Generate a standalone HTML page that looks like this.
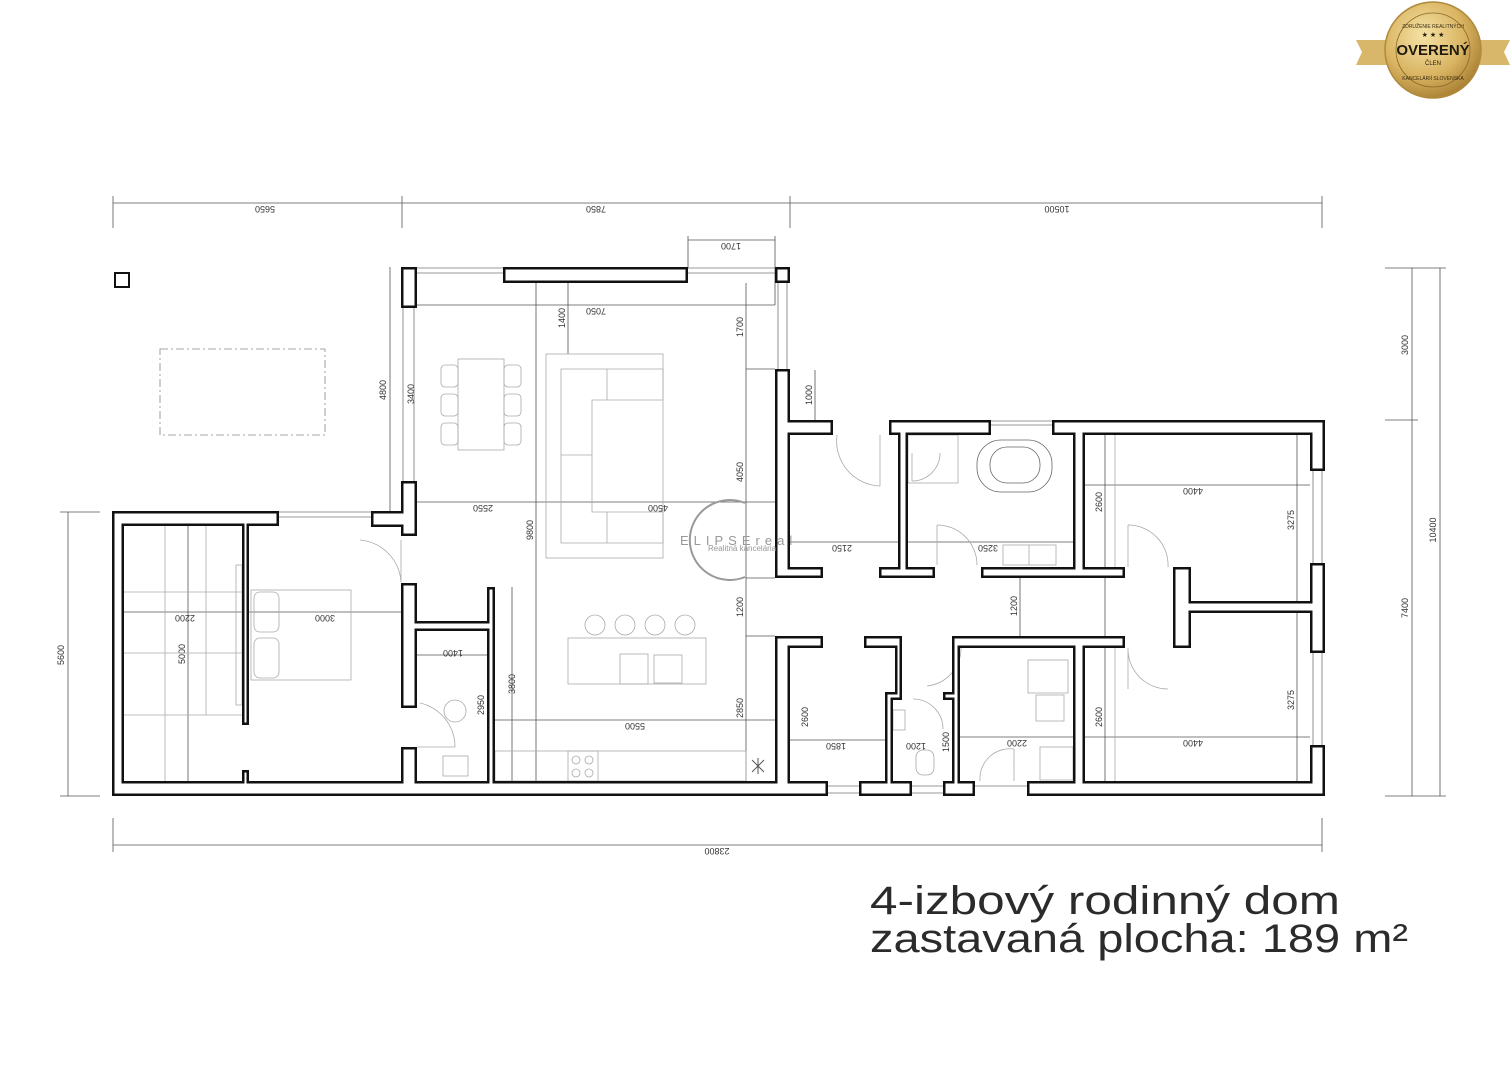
<!DOCTYPE html>
<html><head><meta charset="utf-8"><style>
html,body{margin:0;padding:0;background:#fff;}
svg{display:block}
.d{font-family:"Liberation Sans",sans-serif;font-size:9px;fill:#333}
</style></head><body>
<svg width="1512" height="1080" viewBox="0 0 1512 1080" xmlns="http://www.w3.org/2000/svg">
<rect width="1512" height="1080" fill="#fff"/>

<!-- dimension lines -->
<g stroke="#555" stroke-width="0.8" fill="none">
<line x1="113" y1="203" x2="1322" y2="203"/>
<line x1="113" y1="196" x2="113" y2="228"/><line x1="402" y1="196" x2="402" y2="228"/><line x1="790" y1="196" x2="790" y2="228"/><line x1="1322" y1="196" x2="1322" y2="228"/>
<line x1="113" y1="845" x2="1322" y2="845"/>
<line x1="113" y1="818" x2="113" y2="852"/><line x1="1322" y1="818" x2="1322" y2="852"/>
<line x1="1412" y1="268" x2="1412" y2="796"/><line x1="1440" y1="268" x2="1440" y2="796"/>
<line x1="1385" y1="268" x2="1446" y2="268"/><line x1="1385" y1="420" x2="1418" y2="420"/><line x1="1385" y1="796" x2="1446" y2="796"/>
<line x1="68" y1="512" x2="68" y2="796"/>
<line x1="60" y1="512" x2="100" y2="512"/><line x1="60" y1="796" x2="100" y2="796"/>
<line x1="688" y1="240" x2="775" y2="240"/><line x1="688" y1="236" x2="688" y2="268"/><line x1="775" y1="236" x2="775" y2="305"/>
<line x1="417" y1="305" x2="775" y2="305"/>
<line x1="417" y1="502" x2="775" y2="502"/>
<line x1="536" y1="283" x2="536" y2="781"/>
<line x1="568" y1="283" x2="568" y2="354"/>
<line x1="746" y1="283" x2="746" y2="781"/>
<line x1="746" y1="369" x2="775" y2="369"/><line x1="746" y1="578" x2="775" y2="578"/><line x1="746" y1="636" x2="775" y2="636"/>
<line x1="390" y1="267" x2="390" y2="511"/>
<line x1="124" y1="612" x2="401" y2="612"/>
<line x1="188" y1="526" x2="188" y2="781"/>
<line x1="417" y1="655" x2="487" y2="655"/>
<line x1="512" y1="587" x2="512" y2="781"/>
<line x1="495" y1="720" x2="775" y2="720"/>
<line x1="790" y1="740" x2="885" y2="740"/>
<line x1="908" y1="542" x2="1073" y2="542"/>
<line x1="790" y1="542" x2="898" y2="542"/>
<line x1="1020" y1="575" x2="1020" y2="636"/>
<line x1="1085" y1="485" x2="1310" y2="485"/>
<line x1="1085" y1="737" x2="1310" y2="737"/>
<line x1="1105" y1="435" x2="1105" y2="781"/>
<line x1="1297" y1="435" x2="1297" y2="781"/>
<line x1="960" y1="737" x2="1073" y2="737"/>
<line x1="815" y1="370" x2="815" y2="420"/>
</g>
<g class="d">
<text transform="translate(265,206) rotate(180)" text-anchor="middle">5650</text>
<text transform="translate(596,206) rotate(180)" text-anchor="middle">7850</text>
<text transform="translate(1057,206) rotate(180)" text-anchor="middle">10500</text>
<text transform="translate(717,848) rotate(180)" text-anchor="middle">23800</text>
<text transform="translate(1408,345) rotate(-90)" text-anchor="middle">3000</text>
<text transform="translate(1408,608) rotate(-90)" text-anchor="middle">7400</text>
<text transform="translate(1436,530) rotate(-90)" text-anchor="middle">10400</text>
<text transform="translate(64,655) rotate(-90)" text-anchor="middle">5600</text>
<text transform="translate(731,243) rotate(180)" text-anchor="middle">1700</text>
<text transform="translate(596,308) rotate(180)" text-anchor="middle">7050</text>
<text transform="translate(565,318) rotate(-90)" text-anchor="middle">1400</text>
<text transform="translate(743,327) rotate(-90)" text-anchor="middle">1700</text>
<text transform="translate(386,390) rotate(-90)" text-anchor="middle">4800</text>
<text transform="translate(414,394) rotate(-90)" text-anchor="middle">3400</text>
<text transform="translate(483,505) rotate(180)" text-anchor="middle">2550</text>
<text transform="translate(658,505) rotate(180)" text-anchor="middle">4500</text>
<text transform="translate(743,472) rotate(-90)" text-anchor="middle">4050</text>
<text transform="translate(533,530) rotate(-90)" text-anchor="middle">9800</text>
<text transform="translate(743,607) rotate(-90)" text-anchor="middle">1200</text>
<text transform="translate(743,708) rotate(-90)" text-anchor="middle">2850</text>
<text transform="translate(635,723) rotate(180)" text-anchor="middle">5500</text>
<text transform="translate(515,684) rotate(-90)" text-anchor="middle">3800</text>
<text transform="translate(185,615) rotate(180)" text-anchor="middle">2200</text>
<text transform="translate(325,615) rotate(180)" text-anchor="middle">3000</text>
<text transform="translate(185,654) rotate(-90)" text-anchor="middle">5000</text>
<text transform="translate(453,650) rotate(180)" text-anchor="middle">1400</text>
<text transform="translate(484,705) rotate(-90)" text-anchor="middle">2950</text>
<text transform="translate(842,545) rotate(180)" text-anchor="middle">2150</text>
<text transform="translate(988,545) rotate(180)" text-anchor="middle">3250</text>
<text transform="translate(1017,606) rotate(-90)" text-anchor="middle">1200</text>
<text transform="translate(1193,488) rotate(180)" text-anchor="middle">4400</text>
<text transform="translate(1193,740) rotate(180)" text-anchor="middle">4400</text>
<text transform="translate(1102,502) rotate(-90)" text-anchor="middle">2600</text>
<text transform="translate(1102,717) rotate(-90)" text-anchor="middle">2600</text>
<text transform="translate(1294,520) rotate(-90)" text-anchor="middle">3275</text>
<text transform="translate(1294,700) rotate(-90)" text-anchor="middle">3275</text>
<text transform="translate(812,395) rotate(-90)" text-anchor="middle">1000</text>
<text transform="translate(808,717) rotate(-90)" text-anchor="middle">2600</text>
<text transform="translate(836,743) rotate(180)" text-anchor="middle">1850</text>
<text transform="translate(916,743) rotate(180)" text-anchor="middle">1200</text>
<text transform="translate(1017,740) rotate(180)" text-anchor="middle">2200</text>
<text transform="translate(949,742) rotate(-90)" text-anchor="middle">1500</text>
</g>

<!-- furniture (light) -->
<g stroke="#aaa" stroke-width="0.8" fill="none">
<rect x="160" y="349" width="165" height="86" stroke="#888" stroke-dasharray="8,3,2,3"/>
<rect x="458" y="359" width="46" height="91"/>
<rect x="441" y="365" width="17" height="22" rx="4"/><rect x="441" y="394" width="17" height="22" rx="4"/><rect x="441" y="423" width="17" height="22" rx="4"/>
<rect x="504" y="365" width="17" height="22" rx="4"/><rect x="504" y="394" width="17" height="22" rx="4"/><rect x="504" y="423" width="17" height="22" rx="4"/>
<rect x="546" y="354" width="117" height="204"/>
<path d="M561 369H663V400H592V512H663V543H561Z"/>
<line x1="607" y1="369" x2="607" y2="400"/><line x1="561" y1="455" x2="592" y2="455"/><line x1="607" y1="512" x2="607" y2="543"/>
<circle cx="595" cy="625" r="10"/><circle cx="625" cy="625" r="10"/><circle cx="655" cy="625" r="10"/><circle cx="685" cy="625" r="10"/>
<rect x="568" y="638" width="138" height="46"/><rect x="620" y="654" width="28" height="30"/><rect x="654" y="655" width="28" height="28"/>
<rect x="495" y="751" width="251" height="30"/><rect x="568" y="751" width="30" height="30"/>
<circle cx="576" cy="760" r="4"/><circle cx="589" cy="760" r="4"/><circle cx="576" cy="773" r="4"/><circle cx="589" cy="773" r="4"/>
<rect x="251" y="590" width="100" height="90"/><rect x="254" y="592" width="25" height="40" rx="6"/><rect x="254" y="638" width="25" height="40" rx="6"/>
<rect x="236" y="565" width="6" height="140"/>
<line x1="124" y1="592" x2="242" y2="592"/><line x1="124" y1="653" x2="242" y2="653"/><line x1="124" y1="715" x2="242" y2="715"/>
<line x1="165" y1="526" x2="165" y2="781"/><line x1="206" y1="526" x2="206" y2="715"/>
<rect x="443" y="756" width="25" height="20"/>
<path d="M455 700a8 8 0 1 1 0 22a8 8 0 1 1 0-22"/>
<path d="M360 540a45 45 0 0 1 41 42M401 582V540"/>
<path d="M420 703a45 45 0 0 1 35 44M417 747H455"/>
<rect x="977" y="440" width="75" height="52" rx="24" stroke="#666"/>
<rect x="990" y="447" width="50" height="36" rx="17" stroke="#666"/>
<rect x="1003" y="545" width="53" height="20"/><line x1="1029" y1="545" x2="1029" y2="565"/>
<rect x="908" y="435" width="50" height="48"/>
<path d="M912 481a28 28 0 0 0 28-28M912 453V481"/>
<path d="M937 525a40 40 0 0 1 40 40M937 525V565"/>
<path d="M837 435a45 45 0 0 0 43 51M880 435V486"/>
<path d="M1128 525a40 40 0 0 1 40 42M1128 525V567"/>
<path d="M1128 648a40 40 0 0 0 40 41M1128 648V689"/>
<path d="M961 648a38 38 0 0 1-34 38"/>
<path d="M913 699a30 30 0 0 1 30 30"/>
<path d="M980 781a30 30 0 0 1 34-32M1014 749V781"/>
<rect x="1028" y="660" width="40" height="33"/><rect x="1036" y="695" width="28" height="26"/>
<rect x="1040" y="747" width="33" height="33"/>
<rect x="916" y="750" width="18" height="25" rx="7"/><rect x="893" y="710" width="12" height="20"/>
<line x1="1115" y1="435" x2="1115" y2="567"/><line x1="1115" y1="648" x2="1115" y2="781"/>
</g>
<g stroke="#555" stroke-width="1" fill="none">
<line x1="752" y1="760" x2="764" y2="772"/><line x1="764" y1="760" x2="752" y2="772"/><line x1="758" y1="758" x2="758" y2="774"/>
</g>
<rect x="115" y="273" width="14" height="14" fill="none" stroke="#111" stroke-width="2"/>

<!-- windows thin lines -->
<g stroke="#777" stroke-width="0.8">
<line x1="417" y1="268" x2="503" y2="268"/><line x1="417" y1="273" x2="503" y2="273"/>
<line x1="688" y1="268" x2="775" y2="268"/><line x1="688" y1="273" x2="775" y2="273"/>
<line x1="403" y1="308" x2="403" y2="481"/><line x1="414" y1="308" x2="414" y2="481"/>
<line x1="778" y1="283" x2="778" y2="369"/><line x1="787" y1="283" x2="787" y2="369"/>
<line x1="279" y1="512" x2="371" y2="512"/><line x1="279" y1="517" x2="371" y2="517"/>
<line x1="991" y1="421" x2="1052" y2="421"/><line x1="991" y1="425" x2="1052" y2="425"/>
<line x1="1313" y1="471" x2="1313" y2="563"/><line x1="1322" y1="471" x2="1322" y2="563"/>
<line x1="1313" y1="653" x2="1313" y2="745"/><line x1="1322" y1="653" x2="1322" y2="745"/>
<line x1="828" y1="786" x2="859" y2="786"/><line x1="828" y1="793" x2="859" y2="793"/>
<line x1="912" y1="786" x2="943" y2="786"/><line x1="912" y1="793" x2="943" y2="793"/>
<line x1="975" y1="786" x2="1027" y2="786"/>
</g>

<!-- walls: black then white inset -->
<g fill="#111">
<rect x="112" y="781" width="716" height="15"/><rect x="859" y="781" width="53" height="15"/><rect x="943" y="781" width="32" height="15"/><rect x="1027" y="781" width="298" height="15"/>
<rect x="112" y="511" width="12" height="285"/>
<rect x="112" y="511" width="167" height="15"/>
<rect x="371" y="511" width="46" height="16"/>
<rect x="242" y="526" width="7" height="199"/><rect x="242" y="770" width="7" height="12"/>
<rect x="401" y="267" width="16" height="41"/>
<rect x="401" y="481" width="16" height="55"/>
<rect x="401" y="583" width="16" height="125"/>
<rect x="401" y="747" width="16" height="35"/>
<rect x="417" y="621" width="78" height="10"/>
<rect x="487" y="587" width="8" height="195"/>
<rect x="503" y="267" width="185" height="16"/>
<rect x="775" y="267" width="15" height="16"/>
<rect x="775" y="369" width="15" height="209"/>
<rect x="775" y="636" width="15" height="146"/>
<rect x="775" y="567" width="48" height="11"/>
<rect x="775" y="636" width="48" height="12"/>
<rect x="790" y="420" width="43" height="15"/>
<rect x="889" y="420" width="102" height="15"/>
<rect x="898" y="420" width="10" height="155"/>
<rect x="879" y="567" width="56" height="11"/>
<rect x="981" y="567" width="144" height="11"/>
<rect x="1052" y="420" width="273" height="15"/>
<rect x="1073" y="420" width="12" height="155"/>
<rect x="1310" y="420" width="15" height="51"/>
<rect x="1310" y="563" width="15" height="90"/>
<rect x="1310" y="745" width="15" height="51"/>
<rect x="1173" y="567" width="18" height="81"/>
<rect x="1191" y="601" width="119" height="12"/>
<rect x="864" y="636" width="38" height="12"/>
<rect x="895" y="636" width="7" height="62"/>
<rect x="885" y="692" width="8" height="90"/>
<rect x="885" y="692" width="17" height="8"/>
<rect x="952" y="636" width="173" height="12"/>
<rect x="952" y="636" width="8" height="146"/>
<rect x="943" y="692" width="17" height="8"/>
<rect x="1073" y="648" width="12" height="133"/>
</g>
<g fill="#fff">
<rect x="114.5" y="783.5" width="711" height="10"/>
<rect x="114.5" y="513.5" width="7" height="280"/>
<rect x="861.5" y="783.5" width="48" height="10"/><rect x="945.5" y="783.5" width="27" height="10"/><rect x="1029.5" y="783.5" width="293" height="10"/>
<rect x="114.5" y="513.5" width="162" height="10"/>
<rect x="373.5" y="513.5" width="41" height="11"/>
<rect x="244.5" y="513.5" width="2" height="209"/>
<rect x="244.5" y="772.5" width="2" height="21"/>
<rect x="403.5" y="269.5" width="11" height="36"/>
<rect x="403.5" y="483.5" width="11" height="50"/>
<rect x="403.5" y="585.5" width="11" height="120"/>
<rect x="403.5" y="749.5" width="11" height="44"/>
<rect x="403.5" y="623.5" width="89" height="5"/>
<rect x="489.5" y="589.5" width="3" height="204"/>
<rect x="505.5" y="269.5" width="180" height="11"/>
<rect x="777.5" y="269.5" width="10" height="11"/>
<rect x="777.5" y="371.5" width="10" height="204"/>
<rect x="777.5" y="638.5" width="10" height="155"/>
<rect x="777.5" y="569.5" width="43" height="6"/>
<rect x="777.5" y="638.5" width="43" height="7"/>
<rect x="777.5" y="422.5" width="53" height="10"/>
<rect x="891.5" y="422.5" width="97" height="10"/>
<rect x="900.5" y="422.5" width="5" height="150"/>
<rect x="881.5" y="569.5" width="51" height="6"/>
<rect x="983.5" y="569.5" width="139" height="6"/>
<rect x="1054.5" y="422.5" width="268" height="10"/>
<rect x="1075.5" y="422.5" width="7" height="150"/>
<rect x="1312.5" y="422.5" width="10" height="46"/>
<rect x="1312.5" y="565.5" width="10" height="85"/>
<rect x="1312.5" y="747.5" width="10" height="46"/>
<rect x="1175.5" y="569.5" width="13" height="76"/>
<rect x="1175.5" y="603.5" width="147" height="7"/>
<rect x="866.5" y="638.5" width="33" height="7"/>
<rect x="897.5" y="638.5" width="2" height="57"/>
<rect x="887.5" y="694.5" width="3" height="99"/>
<rect x="887.5" y="694.5" width="12" height="3"/>
<rect x="954.5" y="638.5" width="168" height="7"/>
<rect x="954.5" y="638.5" width="3" height="155"/>
<rect x="945.5" y="694.5" width="12" height="3"/>
<rect x="1075.5" y="638.5" width="7" height="155"/>
</g>

<!-- watermark -->
<path d="M745 503a40 40 0 1 0 0 74" fill="none" stroke="#999" stroke-width="2"/>
<text x="680" y="545" font-family="Liberation Sans,sans-serif" font-size="13" fill="#999" letter-spacing="5">ELIPSEreal</text>
<text x="708" y="551" font-family="Liberation Sans,sans-serif" font-size="8" fill="#999">Realitná kancelária</text>

<!-- title -->
<text x="870" y="914" font-family="Liberation Sans,sans-serif" font-size="40" fill="#2b2b2b" textLength="470" lengthAdjust="spacingAndGlyphs">4-izbový rodinný dom</text>
<text x="870" y="952" font-family="Liberation Sans,sans-serif" font-size="40" fill="#2b2b2b" textLength="538" lengthAdjust="spacingAndGlyphs">zastavaná plocha: 189 m²</text>

<!-- badge -->
<defs><radialGradient id="g" cx="40%" cy="35%" r="70%"><stop offset="0" stop-color="#f6e3a6"/><stop offset="0.6" stop-color="#d9b462"/><stop offset="1" stop-color="#a67c30"/></radialGradient></defs>
<path d="M1356 40H1395L1390 52L1395 65H1356L1362 52Z" fill="#d8b76a"/>
<path d="M1510 40H1471L1476 52L1471 65H1510L1504 52Z" fill="#d8b76a"/>
<circle cx="1433" cy="50" r="48" fill="url(#g)" stroke="#b08a3c" stroke-width="1.5"/>
<circle cx="1433" cy="50" r="37" fill="none" stroke="#8a6a2a" stroke-width="0.8"/>
<text x="1433" y="28" text-anchor="middle" font-family="Liberation Sans,sans-serif" font-size="5" fill="#3a2c10">ZDRUŽENIE REALITNÝCH</text>
<text x="1433" y="37" text-anchor="middle" font-family="Liberation Sans,sans-serif" font-size="7" fill="#2a2010">★ ★ ★</text>
<text x="1433" y="55" text-anchor="middle" font-family="Liberation Sans,sans-serif" font-size="15" font-weight="bold" fill="#1f1a10">OVERENÝ</text>
<text x="1433" y="65" text-anchor="middle" font-family="Liberation Sans,sans-serif" font-size="6" fill="#2a2010">ČLEN</text>
<text x="1433" y="80" text-anchor="middle" font-family="Liberation Sans,sans-serif" font-size="5" fill="#3a2c10">KANCELÁRIÍ SLOVENSKA</text>
</svg>
</body></html>
